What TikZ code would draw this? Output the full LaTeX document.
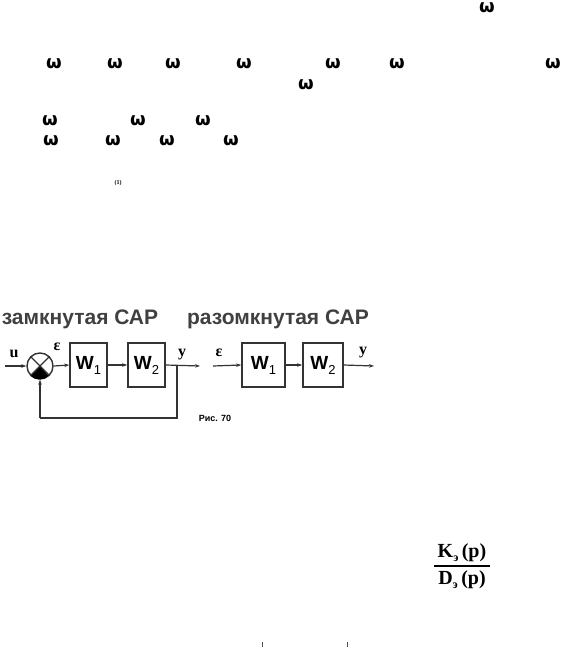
\documentclass[tikz,border=0pt]{standalone}
\usepackage{fontspec}
\setmainfont{Liberation Serif}
\newfontfamily\sansf{Liberation Sans}
\newfontfamily\omf{DejaVu Sans}
\usetikzlibrary{arrows.meta}
\begin{document}
\begin{tikzpicture}[x=1pt,y=-1pt,
  om/.style={font=\omf\bfseries\fontsize{18}{18}\selectfont, inner sep=0pt},
  title/.style={font=\sansf\bfseries\fontsize{21}{21}\selectfont, text=black!75, inner sep=0pt},
  blk/.style={draw=black!80, line width=1.6pt, inner sep=0pt},
  lab/.style={font=\bfseries\fontsize{16}{16}\selectfont, inner sep=0pt},
  ln/.style={draw=black!80, line width=1.2pt},
  arr/.style={ln, -{Stealth[length=5pt,width=3.5pt]}},
  frt/.style={font=\bfseries\fontsize{20}{20}\selectfont, inner sep=0pt}
]
\useasboundingbox (0,0) rectangle (560,647);
\newcommand{\Wlab}[1]{{\sansf\bfseries\fontsize{19}{19}\selectfont W}\raisebox{-5pt}{\sansf\fontsize{13}{13}\selectfont #1}}

% scattered omegas
\node[om] (o1) at (487,8) {ω};
\node[om] (o2) at (54,64) {ω};
\node[om] (o3) at (115,64) {ω};
\node[om] (o4) at (173,64) {ω};
\node[om] (o5) at (244,64) {ω};
\node[om] (o6) at (333,64) {ω};
\node[om] (o7) at (397,64) {ω};
\node[om] (o8) at (553,64) {ω};
\node[om] (o9) at (306,85) {ω};
\node[om] (o10) at (50,121) {ω};
\node[om] (o11) at (138,121) {ω};
\node[om] (o12) at (203,121) {ω};
\node[om] (o13) at (51,141) {ω};
\node[om] (o14) at (113,141) {ω};
\node[om] (o15) at (167,141) {ω};
\node[om] (o16) at (231,141) {ω};
\node[inner sep=0pt, font=\bfseries\fontsize{6}{6}\selectfont] (sm) at (118,183) {(1)};

% titles
\node[title] (t1) at (80,319) {замкнутая САР};
\node[title] (t2) at (278,319) {разомкнутая САР};

% closed loop
\coordinate (uin) at (5,366);
\node[circle, draw=black!80, line width=1.4pt, minimum size=26pt, inner sep=0pt] (cmp) at (40,366) {};
\fill[black] (cmp.center) -- (cmp.south west) arc[start angle=225, end angle=315, radius=13pt] -- cycle;
\draw[ln] (cmp.north west) -- (cmp.south east) (cmp.north east) -- (cmp.south west);
\node[blk, minimum width=37pt, minimum height=44pt] (a1) at (88.5,365) {};
\node[blk, minimum width=37pt, minimum height=44pt] (a2) at (146.5,365) {};
\node[font=\sansf, inner sep=0pt] at (a1.center) {\Wlab{1}};
\node[font=\sansf, inner sep=0pt] at (a2.center) {\Wlab{2}};
\coordinate (yout) at (200,366);
\coordinate (br) at (177,366);
\coordinate (fb1) at (177,418);
\coordinate (fb2) at (40,418);
\draw[arr] (uin) -- (cmp.west);
\draw[arr] (cmp.east) -- (a1.west);
\draw[arr] (a1.east) -- (a2.west);
\draw[arr] (a2.east) -- (yout);
\draw[ln] (br) -- (fb1) -- (fb2);
\draw[arr] (fb2) -- (cmp.south);
\node[lab] (lu) at (14,354) {u};
\node[lab] (le) at (57,347) {ε};
\node[lab] (ly) at (182,355) {y};
\node[font=\sansf\bfseries\fontsize{9}{9}\selectfont, inner sep=0pt] (fig) at (215,418) {Рис. 70};

% open loop
\coordinate (ein) at (213,366);
\node[blk, minimum width=43pt, minimum height=44pt] (b1) at (263.5,365) {};
\node[blk, minimum width=40pt, minimum height=44pt] (b2) at (323,365) {};
\node[font=\sansf, inner sep=0pt] at (b1.center) {\Wlab{1}};
\node[font=\sansf, inner sep=0pt] at (b2.center) {\Wlab{2}};
\coordinate (yout2) at (374,366);
\draw[arr] (ein) -- (b1.west);
\draw[arr] (b1.east) -- (b2.west);
\draw[arr] (b2.east) -- (yout2);
\node[lab] (le2) at (219,353) {ε};
\node[lab] (ly2) at (363,353) {y};

% fraction
\node[frt] (num) at (462,553) {K\raisebox{-4pt}{\fontsize{12}{12}\selectfont э}\,(p)};
\node[frt] (den) at (462,580) {D\raisebox{-4pt}{\fontsize{12}{12}\selectfont э}\,(p)};
\coordinate (fl) at (434,566);
\coordinate (fr) at (490,566);
\draw[line width=1.3pt] (fl) -- (fr);

% faint ticks at bottom
\draw[black!70, line width=1pt] (262,642) -- (262,647) (347,642) -- (347,647);
\end{tikzpicture}
\end{document}
